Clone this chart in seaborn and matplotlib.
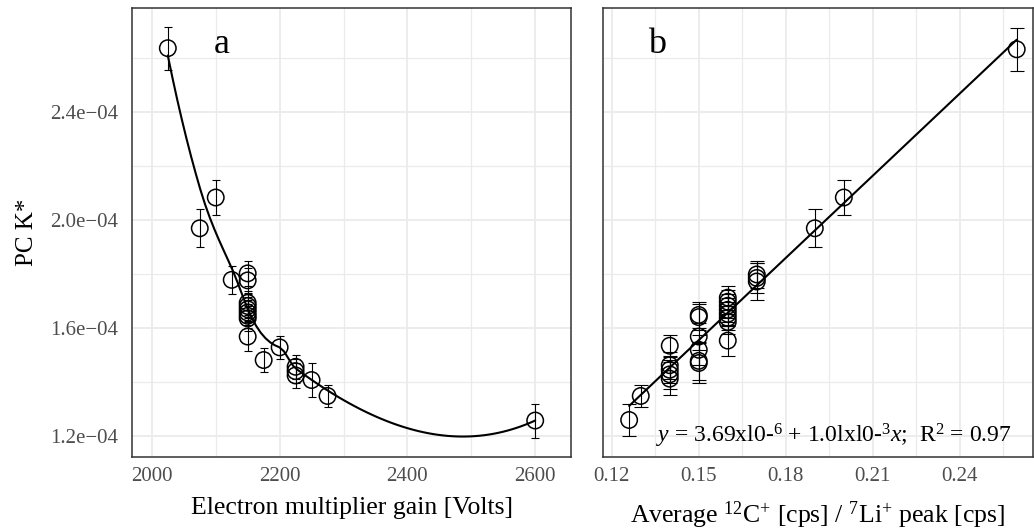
import numpy as np
import pandas as pd
import seaborn as sns
import matplotlib
matplotlib.use("Agg")
import matplotlib.pyplot as plt
from matplotlib.ticker import MultipleLocator, FuncFormatter

# ---- data (panel a) ----
gain_a = [2025, 2075, 2100, 2125, 2150, 2150, 2150, 2150, 2150, 2150, 2150, 2150, 2150,
          2175, 2200, 2225, 2225, 2225, 2250, 2275, 2600]
pck_a = [2.636e-4, 1.969e-4, 2.083e-4, 1.778e-4, 1.802e-4, 1.776e-4, 1.693e-4, 1.681e-4,
         1.669e-4, 1.657e-4, 1.645e-4, 1.635e-4, 1.568e-4,
         1.481e-4, 1.528e-4, 1.456e-4, 1.440e-4, 1.424e-4, 1.407e-4, 1.348e-4, 1.257e-4]
err_a = [7.9e-6, 7.1e-6, 6.3e-6, 5.2e-6, 4.5e-6, 4.5e-6, 4.5e-6, 4.5e-6, 4.5e-6, 4.5e-6,
         4.5e-6, 4.5e-6, 5.5e-6, 4.3e-6, 4.3e-6, 4.5e-6, 4.5e-6, 4.5e-6, 6.2e-6, 4.1e-6, 6.3e-6]

# ---- data (panel b) ----
ratio_b = [0.126, 0.130, 0.14, 0.14, 0.14, 0.14, 0.14,
           0.15, 0.15, 0.15, 0.15, 0.15, 0.15,
           0.16, 0.16, 0.16, 0.16, 0.16, 0.16, 0.16, 0.16,
           0.17, 0.17, 0.17, 0.19, 0.20, 0.2596]
pck_b = [1.259e-4, 1.348e-4, 1.534e-4, 1.462e-4, 1.445e-4, 1.428e-4, 1.412e-4,
         1.648e-4, 1.640e-4, 1.568e-4, 1.519e-4, 1.478e-4, 1.470e-4,
         1.712e-4, 1.697e-4, 1.682e-4, 1.667e-4, 1.652e-4, 1.637e-4, 1.622e-4, 1.553e-4,
         1.798e-4, 1.785e-4, 1.772e-4, 1.969e-4, 2.083e-4, 2.632e-4]
err_b = [6.0e-6, 4.1e-6, 4.0e-6, 5.0e-6, 5.0e-6, 5.5e-6, 6.0e-6,
         4.7e-6, 4.7e-6, 5.0e-6, 5.5e-6, 7.0e-6, 7.5e-6,
         4.5e-6, 4.5e-6, 4.5e-6, 4.5e-6, 4.5e-6, 4.5e-6, 4.5e-6, 5.6e-6,
         5.0e-6, 5.5e-6, 7.0e-6, 7.1e-6, 6.3e-6, 7.9e-6]

y_ticks = [1.2e-4, 1.6e-4, 2.0e-4, 2.4e-4]
x_ticks_a = [2000, 2200, 2400, 2600]
x_ticks_b = [0.12, 0.15, 0.18, 0.21, 0.24]

df_a = pd.DataFrame({"gain": gain_a, "pck": pck_a, "err": err_a})
df_b = pd.DataFrame({"ratio": ratio_b, "pck": pck_b, "err": err_b})


def _local_fit(x, y, x0, q):
    """Local quadratic fit with tricube weights; returns value and slope at x0."""
    d = np.abs(x - x0)
    h = np.sort(d)[q - 1]
    w = np.clip(1 - (d / h) ** 3, 0, None) ** 3
    dx = (x - x0) / h
    X = np.vstack([np.ones(len(x)), dx, dx ** 2]).T
    sw = np.sqrt(w)
    beta = np.linalg.lstsq(X * sw[:, None], y * sw, rcond=None)[0]
    return beta[0], beta[1] / h


def loess(x, y, xs, span=0.75, cell=0.2):
    """1-D loess (degree 2) with kd-tree vertices + cubic Hermite interpolation."""
    x = np.asarray(x, float)
    y = np.asarray(y, float)
    n = len(x)
    q = int(np.floor(n * span + 1e-5))
    fc = int(np.floor(n * span * cell))
    xs_ = np.sort(x)
    X = lambda i: xs_[i - 1]  # 1-based access
    mu = 0.005 * (xs_[-1] - xs_[0])
    lo, hi = xs_[0] - mu, xs_[-1] + mu
    verts = {lo, hi}

    def split(l, u, a, b):
        if u - l + 1 <= fc:
            return
        m = (l + u) // 2
        off = 0
        while l <= m + off < u:
            if X(m + off) == X(m + off + 1):
                off = -off
                if off >= 0:
                    off += 1
            else:
                m = m + off
                break
        t = X(m)
        if t == a or t == b:
            return
        verts.add(t)
        split(l, m, a, t)
        split(m + 1, u, t, b)

    split(1, n, lo, hi)
    v = np.array(sorted(verts))
    fits = np.array([_local_fit(x, y, vv, q) for vv in v])
    out = []
    for x0 in xs:
        i = min(np.searchsorted(v, x0, side="right") - 1, len(v) - 2)
        v0, v1 = v[i], v[i + 1]
        L = v1 - v0
        t = (x0 - v0) / L
        f0, d0 = fits[i]
        f1, d1 = fits[i + 1]
        h00 = 2 * t ** 3 - 3 * t ** 2 + 1
        h10 = t ** 3 - 2 * t ** 2 + t
        h01 = -2 * t ** 3 + 3 * t ** 2
        h11 = t ** 3 - t ** 2
        out.append(h00 * f0 + h10 * L * d0 + h01 * f1 + h11 * L * d1)
    return np.array(out)


sns.set_theme(style="white")
plt.rcParams["font.family"] = ["Liberation Serif", "DejaVu Serif"]
plt.rcParams["mathtext.fontset"] = "custom"
plt.rcParams["mathtext.rm"] = "Liberation Serif"
plt.rcParams["mathtext.it"] = "Liberation Serif:italic"

fig = plt.figure(figsize=(10.34, 5.31), dpi=100)
ax1 = fig.add_axes([0.1277, 0.1394, 0.4245, 0.8456])
ax2 = fig.add_axes([0.5832, 0.1394, 0.4158, 0.8456])

grid_col = "#EBEBEB"
spine_col = "#333333"
tick_col = "#4D4D4D"


def style(ax):
    ax.set_facecolor("white")
    ax.grid(True, which="major", color=grid_col, lw=1.3, zorder=0)
    ax.grid(True, which="minor", color=grid_col, lw=0.9, zorder=0)
    ax.set_axisbelow(True)
    for s in ax.spines.values():
        s.set_visible(True)
        s.set_color(spine_col)
        s.set_linewidth(1.1)
    ax.tick_params(which="major", direction="out", length=5, width=1.0, color=spine_col,
                   labelsize=15, labelcolor=tick_col, pad=2)
    ax.tick_params(which="minor", length=0)


# panel a
xs = np.linspace(df_a["gain"].min(), df_a["gain"].max(), 80)
smooth = pd.DataFrame({"gain": xs, "pck": loess(df_a["gain"], df_a["pck"], xs)})
sns.lineplot(data=smooth, x="gain", y="pck", ax=ax1, color="black", lw=1.5, zorder=3)
ax1.errorbar(df_a["gain"], df_a["pck"], yerr=df_a["err"], fmt="none", ecolor="black",
             elinewidth=0.8, capsize=3, capthick=0.8, zorder=4)
sns.scatterplot(data=df_a, x="gain", y="pck", ax=ax1, marker="o", s=140,
                facecolors="none", edgecolor="black", linewidth=1.1, zorder=5)
ax1.set_xlim(1969, 2656)
ax1.set_ylim(1.122e-4, 2.785e-4)
ax1.set_xticks(x_ticks_a)
ax1.xaxis.set_minor_locator(MultipleLocator(100))
ax1.set_yticks(y_ticks)
ax1.yaxis.set_minor_locator(MultipleLocator(0.2e-4))
ax1.yaxis.set_major_formatter(FuncFormatter(lambda v, p: f"{v:.1e}".replace("-", "\u2212")))
style(ax1)
ax1.tick_params(axis="y", pad=5)
ax1.set_xlabel("Electron multiplier gain [Volts]", fontsize=18.5, color="black", labelpad=8)
ax1.set_ylabel("PC K*", fontsize=18, color="black", labelpad=9)
ax1.text(2109, 2.618e-4, "a", fontsize=26, ha="center", va="baseline", color="black")

# panel b
sns.regplot(data=df_b, x="ratio", y="pck", ci=None, scatter=False, ax=ax2,
            color="black", line_kws={"lw": 1.5, "zorder": 3})
ax2.errorbar(df_b["ratio"], df_b["pck"], yerr=df_b["err"], fmt="none", ecolor="black",
             elinewidth=0.8, capsize=4.7, capthick=0.8, zorder=4)
sns.scatterplot(data=df_b, x="ratio", y="pck", ax=ax2, marker="o", s=140,
                facecolors="none", edgecolor="black", linewidth=1.1, zorder=5)
ax2.set_xlim(0.117, 0.2652)
ax2.set_ylim(1.122e-4, 2.785e-4)
ax2.set_xticks(x_ticks_b)
ax2.xaxis.set_minor_locator(MultipleLocator(0.015))
ax2.set_yticks(y_ticks)
ax2.yaxis.set_minor_locator(MultipleLocator(0.2e-4))
style(ax2)
ax2.tick_params(axis="y", which="both", left=False, labelleft=False)
ax2.set_xlabel("Average $^{12}$C$^{+}$ [cps] / $^{7}$Li$^{+}$ peak [cps]", fontsize=18.5,
               color="black", labelpad=10)
ax2.set_ylabel("")
ax2.text(0.1357, 2.618e-4, "b", fontsize=26, ha="center", va="baseline", color="black")
ax2.text(0.1967, 1.174e-4,
         "$\\mathit{y}$ = 3.69xl0-$^{6}$ + 1.0lxl0-$^{3}$$\\mathit{x}$;  R$^{2}$ = 0.97",
         fontsize=17, ha="center", va="baseline", color="black")

fig.savefig("out.png", dpi=100)
